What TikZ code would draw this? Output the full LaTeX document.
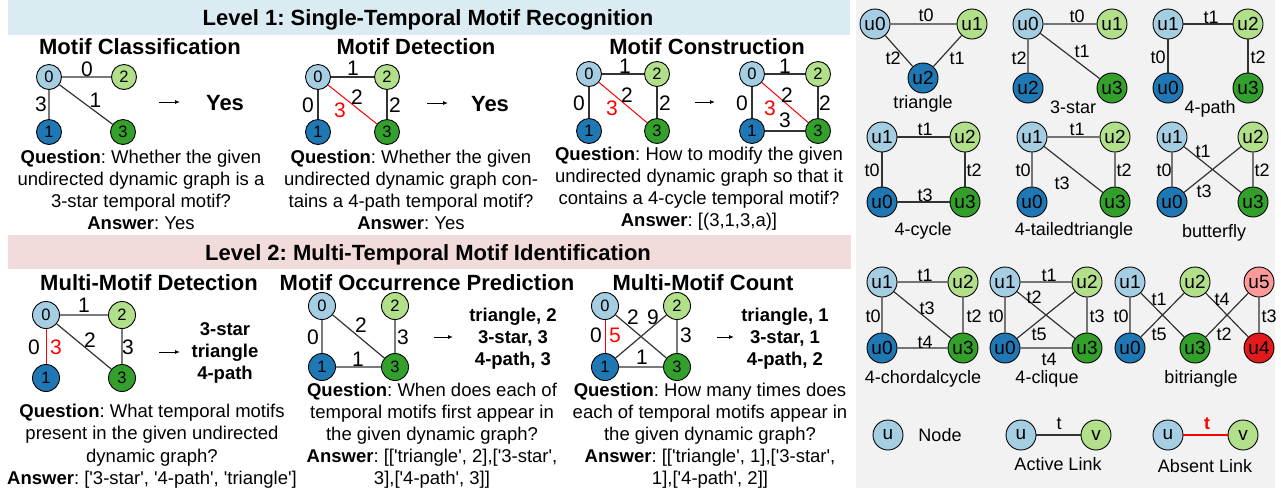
\documentclass[tikz,border=0pt]{standalone}
\usepackage{fontspec}
\setmainfont{Liberation Sans}
\usetikzlibrary{arrows.meta}
\frenchspacing
\definecolor{cLB}{HTML}{A6CEE3}
\definecolor{cLG}{HTML}{B2DF8A}
\definecolor{cDB}{HTML}{1F78B4}
\definecolor{cDG}{HTML}{33A02C}
\definecolor{cPK}{HTML}{FB9A99}
\definecolor{cRD}{HTML}{E31A1C}
\definecolor{banA}{HTML}{DAEBF2}
\definecolor{banB}{HTML}{F2DCDB}
\definecolor{panG}{HTML}{F2F2F2}
\newcommand\szQ{\fontsize{18.5pt}{22.2pt}\selectfont}
\newcommand\szT{\fontsize{22pt}{26pt}\selectfont\bfseries}
\newcommand\szA{\fontsize{18.5pt}{22pt}\selectfont\bfseries}
\newcommand\szE{\fontsize{21pt}{21pt}\selectfont}
\newcommand\szN{\fontsize{16.5pt}{16.5pt}\selectfont}
\newcommand\szR{\fontsize{18pt}{18pt}\selectfont}
\newcommand\szU{\fontsize{19pt}{19pt}\selectfont}
\newcommand\sq{\textquotesingle}
\begin{document}
\frenchspacing
\begin{tikzpicture}[x=1pt,y=-1pt,
  gA/.style={circle,draw=black,line width=0.9pt,minimum size=25pt,inner sep=0pt,font=\szN},
  gB/.style={circle,draw=black,line width=0.9pt,minimum size=27pt,inner sep=0pt,font=\szN},
  mn/.style={circle,draw=black,line width=0.9pt,minimum size=30pt,inner sep=0pt,font=\szU},
  edge/.style={draw=black!80,line width=1.2pt},
  absent/.style={draw=red,line width=1pt},
  elab/.style={font=\szE,inner sep=0pt},
  rlab/.style={font=\szE,inner sep=0pt,text=red},
  tlab/.style={font=\szR,inner sep=0pt},
  ttl/.style={font=\szT,anchor=base,inner sep=0pt},
  qtext/.style={font=\szQ\frenchspacing,align=center,anchor=base,inner sep=0pt},
  ans/.style={font=\szA,align=center,anchor=base,inner sep=0pt},
  yes/.style={font=\szT,anchor=base,inner sep=0pt},
  mcap/.style={font=\szR,anchor=base,inner sep=0pt},
  arr/.style={-{Latex[length=5pt,width=4pt]},line width=0.9pt}
]
\useasboundingbox (0,0) rectangle (1281,491);
\fill[white] (0,0) rectangle (1281,491);
\fill[banA] (8,0) rectangle (850,35);
\fill[banB] (8,235) rectangle (851,269);
\fill[panG] (856,0) rectangle (1275,488);

\node[ttl] (lev1) at (428,25) {Level 1: Single-Temporal Motif Recognition};
\node[ttl] (lev2) at (428,260.4) {Level 2: Multi-Temporal Motif Identification};

% ---------- Panel 1: Motif Classification
\node[ttl] (h1) at (140,54.4) {Motif Classification};
\node[gA,fill=cLB] (a0) at (49,77) {0};
\node[gA,fill=cLG] (a2) at (124,77) {2};
\node[gA,fill=cDB] (a1) at (49,132) {1};
\node[gA,fill=cDG] (a3) at (123,132) {3};
\draw[edge] (a0)--(a2) (a0)--(a1) (a0)--(a3);
\node[elab] (al02) at (87,69) {0};
\node[elab] (al01) at (41,104.5) {3};
\node[elab] (al03) at (95.5,100) {1};
\coordinate (as) at (159,102); \coordinate (ae) at (180,102);
\draw[arr] (as)--(ae);
\node[yes] (ay) at (225,110) {Yes};
\node[qtext] (aq) at (141,229.6) {\textbf{Question}: Whether the given\\undirected dynamic graph is a\\3-star temporal motif?\\\textbf{Answer}: Yes};

% ---------- Panel 2: Motif Detection
\node[ttl] (h2) at (416,54.4) {Motif Detection};
\node[gA,fill=cLB] (b0) at (318,77) {0};
\node[gA,fill=cLG] (b2) at (387,77) {2};
\node[gA,fill=cDB] (b1) at (318,132) {1};
\node[gA,fill=cDG] (b3) at (387,132) {3};
\draw[edge] (b0)--(b2) (b0)--(b1) (b2)--(b3);
\draw[absent] (b0)--(b3);
\node[elab] (bl02) at (353,68) {1};
\node[elab] (bl01) at (308,105) {0};
\node[elab] (bl23) at (395,105) {2};
\node[elab] (bl03) at (357,97) {2};
\node[rlab] (bl03r) at (340,110) {3};
\coordinate (bs) at (427,103); \coordinate (be) at (448,103);
\draw[arr] (bs)--(be);
\node[yes] (by) at (490,111) {Yes};
\node[qtext] (bq) at (411,229.6) {\textbf{Question}: Whether the given\\undirected dynamic graph con-\\tains a 4-path temporal motif?\\\textbf{Answer}: Yes};

% ---------- Panel 3: Motif Construction
\node[ttl] (h3) at (707,54.4) {Motif Construction};
\node[gA,fill=cLB] (c0) at (589,74) {0};
\node[gA,fill=cLG] (c2) at (657,74) {2};
\node[gA,fill=cDB] (c1) at (589,131) {1};
\node[gA,fill=cDG] (c3) at (657,131) {3};
\draw[edge] (c0)--(c2) (c0)--(c1) (c2)--(c3);
\draw[absent] (c0)--(c3);
\node[elab] (cl02) at (625,66) {1};
\node[elab] (cl01) at (579,103) {0};
\node[elab] (cl23) at (665,103) {2};
\node[elab] (cl03) at (627,95) {2};
\node[rlab] (cl03r) at (612,108) {3};
\coordinate (cs) at (695,102); \coordinate (ce) at (715,102);
\draw[arr] (cs)--(ce);
\node[gA,fill=cLB] (d0) at (752,74) {0};
\node[gA,fill=cLG] (d2) at (818,74) {2};
\node[gA,fill=cDB] (d1) at (752,131) {1};
\node[gA,fill=cDG] (d3) at (818,131) {3};
\draw[edge] (d0)--(d2) (d0)--(d1) (d2)--(d3) (d1)--(d3);
\draw[absent] (d0)--(d3);
\node[elab] (dl02) at (785,66) {1};
\node[elab] (dl01) at (742,103) {0};
\node[elab] (dl23) at (825,103) {2};
\node[elab] (dl03) at (787,95) {2};
\node[rlab] (dl03r) at (770,108) {3};
\node[elab] (dl13) at (785,120) {3};
\node[qtext] (cq) at (699,226.6) {\textbf{Question}: How to modify the given\\undirected dynamic graph so that it\\contains a 4-cycle temporal motif?\\\textbf{Answer}: [(3,1,3,a)]};

% ---------- Panel 4: Multi-Motif Detection
\node[ttl] (h4) at (149,290.4) {Multi-Motif Detection};
\node[gB,fill=cLB] (e0) at (46,315) {0};
\node[gB,fill=cLG] (e2) at (122,315) {2};
\node[gB,fill=cDB] (e1) at (46,378) {1};
\node[gB,fill=cDG] (e3) at (122,378) {3};
\draw[edge] (e0)--(e2) (e0)--(e3) (e2)--(e3);
\draw[absent] (e0)--(e1);
\node[elab] (el02) at (84,305) {1};
\node[elab] (el01) at (34,347) {0};
\node[rlab] (el01r) at (56,347) {3};
\node[elab] (el03) at (90,340) {2};
\node[elab] (el23) at (128,347) {3};
\coordinate (es) at (159,352); \coordinate (ee) at (180,352);
\draw[arr] (es)--(ee);
\node[ans] (ea) at (225,379.6) {3-star\\triangle\\4-path};
\node[qtext] (eq) at (152,484.2) {\textbf{Question}: What temporal motifs\\present in the given undirected\\dynamic graph?\\\textbf{Answer}: [\sq3-star\sq, \sq4-path\sq, \sq triangle\sq]};

% ---------- Panel 5: Motif Occurrence Prediction
\node[ttl] (h5) at (427,290.4) {Motif Occurrence Prediction};
\node[gB,fill=cLB] (f0) at (322,306) {0};
\node[gB,fill=cLG] (f2) at (395,306) {2};
\node[gB,fill=cDB] (f1) at (322,367) {1};
\node[gB,fill=cDG] (f3) at (395,367) {3};
\draw[edge] (f0)--(f1) (f0)--(f3) (f2)--(f3) (f1)--(f3);
\node[elab] (fl01) at (313,337) {0};
\node[elab] (fl03) at (361,325) {2};
\node[elab] (fl23) at (403,337) {3};
\node[elab] (fl13) at (358,359) {1};
\coordinate (fs) at (434,337); \coordinate (fe) at (453,337);
\draw[arr] (fs)--(fe);
\node[ans] (fa) at (513,365.6) {triangle, 2\\3-star, 3\\4-path, 3};
\node[qtext] (fq) at (432,484.8) {\textbf{Question}: When does each of\\temporal motifs first appear in\\the given dynamic graph?\\\textbf{Answer}: [[\sq triangle\sq, 2],[\sq3-star\sq,\\3],[\sq4-path\sq, 3]]};

% ---------- Panel 6: Multi-Motif Count
\node[ttl] (h6) at (703,290.4) {Multi-Motif Count};
\node[gB,fill=cLB] (g0) at (605,306) {0};
\node[gB,fill=cLG] (g2) at (677,306) {2};
\node[gB,fill=cDB] (g1) at (605,367) {1};
\node[gB,fill=cDG] (g3) at (677,367) {3};
\draw[edge] (g0)--(g3) (g1)--(g2) (g2)--(g3) (g1)--(g3);
\draw[absent] (g0)--(g1);
\node[elab] (gl01) at (596,335) {0};
\node[rlab] (gl01r) at (615,335) {5};
\node[elab] (gl03) at (633,317) {2};
\node[elab] (gl12) at (653,317) {9};
\node[elab] (gl23) at (686,335) {3};
\node[elab] (gl13) at (642,357) {1};
\coordinate (gs) at (717,337); \coordinate (ge) at (734,337);
\draw[arr] (gs)--(ge);
\node[ans] (ga) at (785,365.6) {triangle, 1\\3-star, 1\\4-path, 2};
\node[qtext] (gq) at (710,484.8) {\textbf{Question}: How many times does\\each of temporal motifs appear in\\the given dynamic graph?\\\textbf{Answer}: [[\sq triangle\sq, 1],[\sq3-star\sq,\\1],[\sq4-path\sq, 2]]};

% ---------- Right panel: motifs
% triangle
\node[mn,fill=cLB] (tr0) at (875,24) {u0};
\node[mn,fill=cLG] (tr1) at (972,24) {u1};
\node[mn,fill=cDB] (tr2) at (923,78) {u2};
\draw[edge] (tr0)--(tr1) (tr1)--(tr2) (tr0)--(tr2);
\node[tlab] (trl0) at (926,15) {t0};
\node[tlab] (trl2) at (893,58) {t2};
\node[tlab] (trl1) at (957,58) {t1};
\node[mcap] (trc) at (923,108) {triangle};
% 3-star
\node[mn,fill=cLB] (st0) at (1028,24) {u0};
\node[mn,fill=cLG] (st1) at (1112,24) {u1};
\node[mn,fill=cDB] (st2) at (1028,88) {u2};
\node[mn,fill=cDG] (st3) at (1112,88) {u3};
\draw[edge] (st0)--(st1) (st0)--(st2) (st0)--(st3);
\node[tlab] (stl0) at (1077,16) {t0};
\node[tlab] (stl2) at (1019,58) {t2};
\node[tlab] (stl1) at (1082,51) {t1};
\node[mcap] (stc) at (1073,113) {3-star};
% 4-path
\node[mn,fill=cLB] (pa1) at (1168,24) {u1};
\node[mn,fill=cLG] (pa2) at (1248,24) {u2};
\node[mn,fill=cDB] (pa0) at (1168,88) {u0};
\node[mn,fill=cDG] (pa3) at (1248,88) {u3};
\draw[edge] (pa1)--(pa2) (pa1)--(pa0) (pa2)--(pa3);
\node[tlab] (pal1) at (1211,17) {t1};
\node[tlab] (pal0) at (1158,57) {t0};
\node[tlab] (pal2) at (1258,57) {t2};
\node[mcap] (pac) at (1210,113) {4-path};
% 4-cycle
\node[mn,fill=cLB] (cy1) at (882,137) {u1};
\node[mn,fill=cLG] (cy2) at (965,137) {u2};
\node[mn,fill=cDB] (cy0) at (882,202) {u0};
\node[mn,fill=cDG] (cy3) at (965,202) {u3};
\draw[edge] (cy1)--(cy2) (cy1)--(cy0) (cy2)--(cy3) (cy0)--(cy3);
\node[tlab] (cyl1) at (925,129) {t1};
\node[tlab] (cyl0) at (872,170) {t0};
\node[tlab] (cyl2) at (974,170) {t2};
\node[tlab] (cyl3) at (925,195) {t3};
\node[mcap] (cyc) at (923,235) {4-cycle};
% 4-tailedtriangle
\node[mn,fill=cLB] (tt1) at (1032,137) {u1};
\node[mn,fill=cLG] (tt2) at (1115,137) {u2};
\node[mn,fill=cDB] (tt0) at (1032,202) {u0};
\node[mn,fill=cDG] (tt3) at (1115,202) {u3};
\draw[edge] (tt1)--(tt2) (tt1)--(tt0) (tt2)--(tt3) (tt1)--(tt3);
\node[tlab] (ttl1) at (1077,129) {t1};
\node[tlab] (ttl0) at (1023,170) {t0};
\node[tlab] (ttl2) at (1124,170) {t2};
\node[tlab] (ttl3) at (1062,183) {t3};
\node[mcap] (ttc) at (1074,235) {4-tailedtriangle};
% butterfly
\node[mn,fill=cLB] (bf1) at (1172,137) {u1};
\node[mn,fill=cLG] (bf2) at (1253,137) {u2};
\node[mn,fill=cDB] (bf0) at (1172,202) {u0};
\node[mn,fill=cDG] (bf3) at (1253,202) {u3};
\draw[edge] (bf1)--(bf0) (bf2)--(bf3) (bf1)--(bf3) (bf2)--(bf0);
\node[tlab] (bfl1) at (1203,151) {t1};
\node[tlab] (bfl0) at (1164,170) {t0};
\node[tlab] (bfl2) at (1262,170) {t2};
\node[tlab] (bfl3) at (1204,191) {t3};
\node[mcap] (bfc) at (1214,237) {butterfly};
% 4-chordalcycle
\node[mn,fill=cLB] (ch1) at (882,282) {u1};
\node[mn,fill=cLG] (ch2) at (963,282) {u2};
\node[mn,fill=cDB] (ch0) at (882,348) {u0};
\node[mn,fill=cDG] (ch3) at (963,348) {u3};
\draw[edge] (ch1)--(ch2) (ch1)--(ch0) (ch2)--(ch3) (ch0)--(ch3) (ch1)--(ch3);
\node[tlab] (chl1) at (925,275) {t1};
\node[tlab] (chl0) at (873,316) {t0};
\node[tlab] (chl2) at (974,316) {t2};
\node[tlab] (chl3) at (927,308) {t3};
\node[tlab] (chl4) at (925,342) {t4};
\node[mcap] (chc) at (923,383) {4-chordalcycle};
% 4-clique
\node[mn,fill=cLB] (cq1) at (1005,282) {u1};
\node[mn,fill=cLG] (cq2) at (1087,282) {u2};
\node[mn,fill=cDB] (cq0) at (1005,348) {u0};
\node[mn,fill=cDG] (cq3) at (1087,348) {u3};
\draw[edge] (cq1)--(cq2) (cq1)--(cq0) (cq2)--(cq3) (cq0)--(cq3) (cq1)--(cq3) (cq0)--(cq2);
\node[tlab] (cql1) at (1049,275) {t1};
\node[tlab] (cql0) at (996,316) {t0};
\node[tlab] (cql3) at (1097,316) {t3};
\node[tlab] (cql2) at (1034,297) {t2};
\node[tlab] (cql5) at (1039,334) {t5};
\node[tlab] (cql4) at (1049,359) {t4};
\node[mcap] (cqc) at (1047,383) {4-clique};
% bitriangle
\node[mn,fill=cLB] (bt1) at (1130,282) {u1};
\node[mn,fill=cLG] (bt2) at (1195,282) {u2};
\node[mn,fill=cPK] (bt5) at (1259,282) {u5};
\node[mn,fill=cDB] (bt0) at (1130,348) {u0};
\node[mn,fill=cDG] (bt3) at (1195,348) {u3};
\node[mn,fill=cRD] (bt4) at (1259,348) {u4};
\draw[edge] (bt1)--(bt0) (bt1)--(bt3) (bt2)--(bt0) (bt2)--(bt4) (bt5)--(bt3) (bt5)--(bt4);
\node[tlab] (btl0) at (1121,316) {t0};
\node[tlab] (btl1) at (1159,299) {t1};
\node[tlab] (btl5) at (1159,334) {t5};
\node[tlab] (btl4) at (1222,299) {t4};
\node[tlab] (btl2) at (1224,334) {t2};
\node[tlab] (btl3) at (1269,316) {t3};
\node[mcap] (btc) at (1201,383) {bitriangle};
% legend
\node[mn,fill=cLB] (lgu) at (888,435) {u};
\node[mcap] (lgt) at (940,441.5) {Node};
\node[mn,fill=cLB] (acu) at (1021,435) {u};
\node[mn,fill=cLG] (acv) at (1096,435) {v};
\draw[edge] (acu)--(acv);
\node[tlab] (act) at (1059,424) {t};
\node[mcap] (acc) at (1058,470) {Active Link};
\node[mn,fill=cLB] (abu) at (1168,435) {u};
\node[mn,fill=cLG] (abv) at (1243,435) {v};
\draw[draw=red,line width=1.6pt] (abu)--(abv);
\node[tlab,text=red,font=\szR\bfseries] (abt) at (1207,424) {t};
\node[mcap] (abc) at (1205,472) {Absent Link};
\end{tikzpicture}
\end{document}
